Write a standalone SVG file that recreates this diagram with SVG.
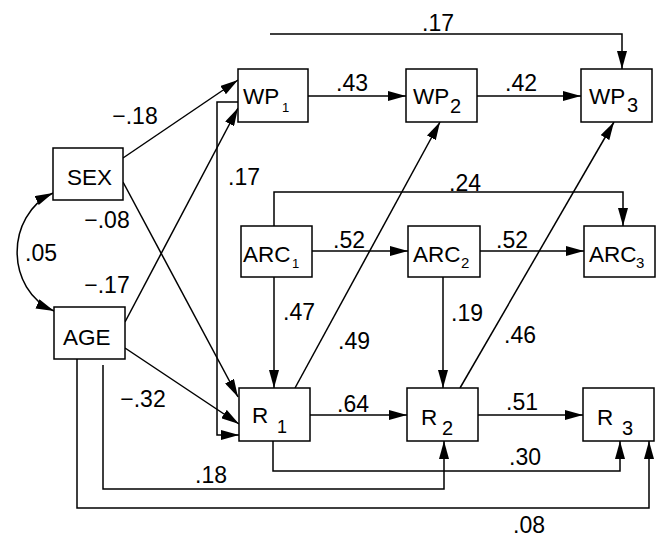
<svg xmlns="http://www.w3.org/2000/svg" width="658" height="538" viewBox="0 0 658 538">
<style>
.box{fill:#fff;stroke:#000;stroke-width:1.5}
.lbl{font-family:"Liberation Sans",Arial,sans-serif;font-size:22.5px;fill:#000}
.sub{font-family:"Liberation Sans",Arial,sans-serif;fill:#000}
.coef{font-family:"Liberation Sans",Arial,sans-serif;font-size:23px;fill:#000;text-anchor:middle}
.c{fill:none;stroke:#000;stroke-width:1.5}
</style>
<defs>
<marker id="ah" viewBox="0 0 18 10" refX="18" refY="5" markerWidth="18" markerHeight="10" markerUnits="userSpaceOnUse" orient="auto-start-reverse">
<path d="M0,0 L18,5 L0,10 z" fill="#000"/>
</marker>
</defs>
<rect width="658" height="538" fill="#fff"/>
<g id="connectors">
<path class="c" d="M123,158 L238,80" marker-end="url(#ah)"/>
<path class="c" d="M123,182 L238,397" marker-end="url(#ah)"/>
<path class="c" d="M125,322 L238,108" marker-end="url(#ah)"/>
<path class="c" d="M125,348 L239,424" marker-end="url(#ah)"/>
<path class="c" d="M238,102 L217,102 L217,435 L239,435" marker-end="url(#ah)"/>
<path class="c" d="M308,96 L406,96" marker-end="url(#ah)"/>
<path class="c" d="M477,96 L581,96" marker-end="url(#ah)"/>
<path class="c" d="M270,34 L622,34 L622,69" marker-end="url(#ah)"/>
<path class="c" d="M274,226 L274,192 L623,192 L623,226" marker-end="url(#ah)"/>
<path class="c" d="M312,251 L408,251" marker-end="url(#ah)"/>
<path class="c" d="M480,251 L584,251" marker-end="url(#ah)"/>
<path class="c" d="M274,277 L274,388" marker-end="url(#ah)"/>
<path class="c" d="M443,277 L443,388" marker-end="url(#ah)"/>
<path class="c" d="M295,388 L440,122" marker-end="url(#ah)"/>
<path class="c" d="M460,388 L614,122" marker-end="url(#ah)"/>
<path class="c" d="M310,415 L407,415" marker-end="url(#ah)"/>
<path class="c" d="M478,415 L583,415" marker-end="url(#ah)"/>
<path class="c" d="M273,441 L273,471 L620,471 L620,441" marker-end="url(#ah)"/>
<path class="c" d="M103,365 L103,489 L444,489 L444,441" marker-end="url(#ah)"/>
<path class="c" d="M77,359 L77,508 L649,508 L649,441" marker-end="url(#ah)"/>
<path class="c" d="M53,193 C5,215 5,290 54,311" marker-start="url(#ah)" marker-end="url(#ah)"/>
</g>
<g id="SEX"><rect class="box" x="53" y="148" width="70" height="52"/><text class="lbl" x="67" y="185">SEX</text></g>
<g id="AGE"><rect class="box" x="54" y="307" width="71" height="52"/><text class="lbl" x="63" y="345">AGE</text></g>
<g id="WP1"><rect class="box" x="238" y="69" width="70" height="53"/><text class="lbl" x="243" y="104">WP<tspan class="sub" x="282" y="112" font-size="13">1</tspan></text></g>
<g id="WP2"><rect class="box" x="406" y="69" width="71" height="53"/><text class="lbl" x="413" y="104">WP<tspan class="sub" x="450" y="113" font-size="20">2</tspan></text></g>
<g id="WP3"><rect class="box" x="581" y="69" width="71" height="53"/><text class="lbl" x="589" y="104">WP<tspan class="sub" x="627" y="112" font-size="20">3</tspan></text></g>
<g id="ARC1"><rect class="box" x="241" y="226" width="71" height="51"/><text class="lbl" x="243" y="262">ARC<tspan class="sub" x="292" y="268" font-size="13">1</tspan></text></g>
<g id="ARC2"><rect class="box" x="408" y="226" width="72" height="51"/><text class="lbl" x="413" y="262">ARC<tspan class="sub" x="461" y="268" font-size="15">2</tspan></text></g>
<g id="ARC3"><rect class="box" x="584" y="226" width="71" height="51"/><text class="lbl" x="589" y="262">ARC<tspan class="sub" x="636" y="268" font-size="15">3</tspan></text></g>
<g id="R1"><rect class="box" x="239" y="388" width="71" height="53"/><text class="lbl" x="252" y="423">R<tspan class="sub" x="277" y="433" font-size="18">1</tspan></text></g>
<g id="R2"><rect class="box" x="407" y="388" width="71" height="53"/><text class="lbl" x="421" y="425">R<tspan class="sub" x="442" y="435" font-size="20">2</tspan></text></g>
<g id="R3"><rect class="box" x="583" y="388" width="71" height="53"/><text class="lbl" x="597" y="425">R<tspan class="sub" x="622" y="435" font-size="20">3</tspan></text></g>
<g id="labels">
<text class="coef" x="135" y="124">−.18</text>
<text class="coef" x="244" y="185">.17</text>
<text class="coef" x="107" y="228">−.08</text>
<text class="coef" x="41" y="261">.05</text>
<text class="coef" x="107" y="293">−.17</text>
<text class="coef" x="143" y="407">−.32</text>
<text class="coef" x="211" y="483">.18</text>
<text class="coef" x="299" y="320">.47</text>
<text class="coef" x="438" y="31">.17</text>
<text class="coef" x="352" y="91">.43</text>
<text class="coef" x="521" y="91">.42</text>
<text class="coef" x="465" y="191">.24</text>
<text class="coef" x="349" y="248">.52</text>
<text class="coef" x="512" y="248">.52</text>
<text class="coef" x="354" y="349">.49</text>
<text class="coef" x="467" y="321">.19</text>
<text class="coef" x="520" y="343">.46</text>
<text class="coef" x="353" y="412">.64</text>
<text class="coef" x="522" y="410">.51</text>
<text class="coef" x="525" y="465">.30</text>
<text class="coef" x="529" y="533">.08</text>
</g>
</svg>
